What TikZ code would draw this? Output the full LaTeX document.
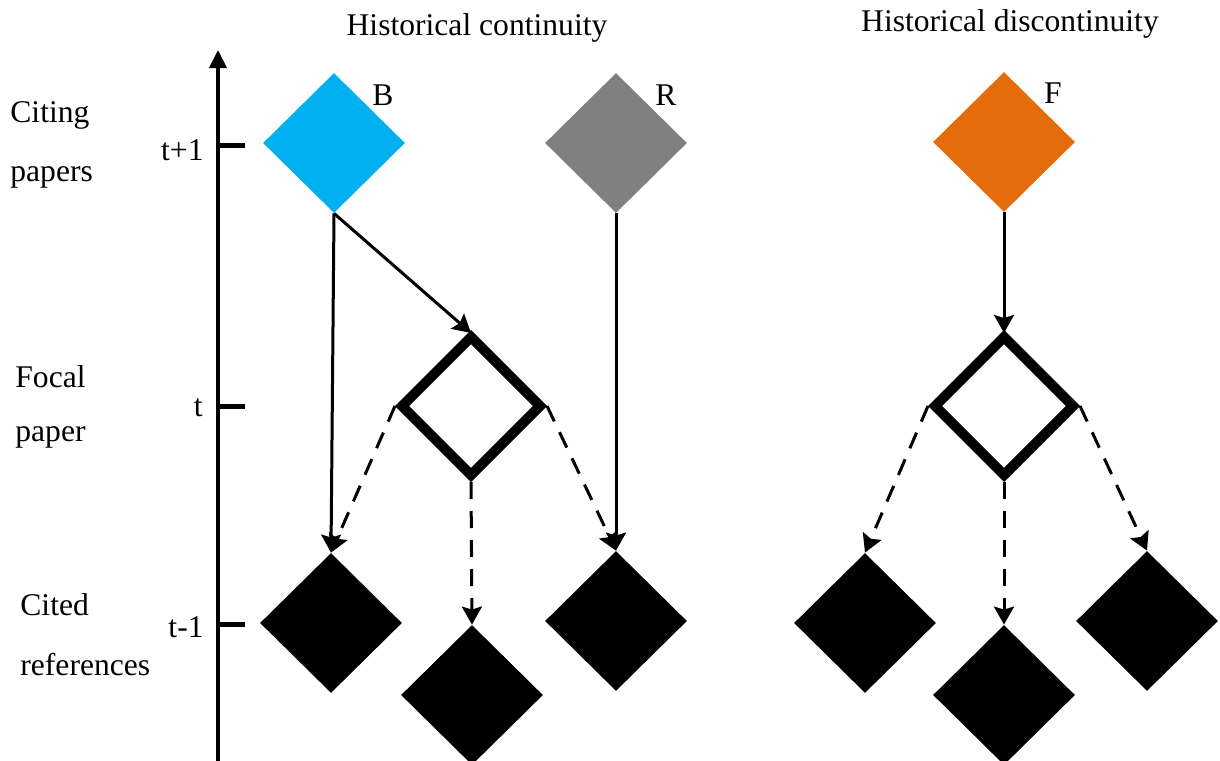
\documentclass[tikz,border=0pt]{standalone}
\usepackage{fontspec}
\setmainfont{Liberation Serif}
\usetikzlibrary{shapes.geometric,arrows.meta}
\definecolor{bblue}{HTML}{00B0F0}
\definecolor{rgray}{HTML}{808080}
\definecolor{forange}{HTML}{E46C0A}
\begin{document}
\begin{tikzpicture}[x=0.5pt,y=-0.5pt,
  font=\fontsize{15.8}{19}\selectfont,
  txt/.style={inner sep=0pt},
  dia/.style={diamond, inner sep=0pt, minimum width=71pt, minimum height=70pt},
  focal/.style={diamond, inner sep=0pt, minimum width=71pt, minimum height=71pt, draw=black, line width=5pt, fill=white},
  link/.style={line width=1.5pt, -{Stealth[length=9pt,width=10pt,inset=1.5pt]}},
  dlink/.style={link, dash pattern=on 8.5pt off 6pt},
  tick/.style={line width=2.5pt}
]
\useasboundingbox (0,0) rectangle (1220,760);
% axis
\coordinate (ab) at (218,762);
\coordinate (at) at (218,50);
\draw[line width=2pt,-{Triangle[length=9pt,width=8.5pt]}] (ab) -- (at);
\coordinate (k1) at (218,145); \coordinate (k1e) at (245,145);
\coordinate (k2) at (218,406); \coordinate (k2e) at (245,406);
\coordinate (k3) at (218,624); \coordinate (k3e) at (245,624);
\draw[tick] (k1) -- (k1e);
\draw[tick] (k2) -- (k2e);
\draw[tick] (k3) -- (k3e);
% diamonds
\node[dia, fill=bblue] (B) at (334,143) {};
\node[dia, fill=rgray] (R) at (616,143) {};
\node[dia, fill=forange] (F) at (1004,142) {};
\node[dia, fill=black] (c1) at (331,623) {};
\node[dia, fill=black] (c2) at (472,695) {};
\node[dia, fill=black] (c3) at (616,621) {};
\node[dia, fill=black] (c4) at (865,623) {};
\node[dia, fill=black] (c5) at (1004,695) {};
\node[dia, fill=black] (c6) at (1147,621) {};
% edges
\draw[link] (B.south) -- (471,333);
\draw[link] (F.south) -- (1004,333);
\node[focal] (P1) at (471,406) {};
\node[focal] (P2) at (1004,406) {};
\draw[link] (B.south) -- (c1.north);
\draw[link] (R.south) -- (c3.north);
\draw[dlink] (P1.west) -- (c1.north);
\draw[dlink] (P1.south) -- (c2.north);
\draw[dlink] (P1.east) -- (c3.north);
\draw[dlink] (P2.west) -- (c4.north);
\draw[dlink] (P2.south) -- (c5.north);
\draw[dlink] (P2.east) -- (c6.north);
% labels
\node[txt] (tB) at (383,95) {B};
\node[txt] (tR) at (666,95) {R};
\node[txt] (tF) at (1053,93) {F};
\node[txt] (h1) at (477,28) {Historical continuity};
\node[txt] (h2) at (1010,24) {Historical discontinuity};
\node[txt, anchor=east] (l1) at (204,150) {t+1};
\node[txt, anchor=east] (l2) at (203,408) {t};
\node[txt, anchor=east] (l3) at (204,627) {t-1};
\node[txt, anchor=west] (a1) at (10,115) {Citing};
\node[txt, anchor=west] (a2) at (10,177) {papers};
\node[txt, anchor=west] (a3) at (15,377) {Focal};
\node[txt, anchor=west] (a4) at (15,437) {paper};
\node[txt, anchor=west] (a5) at (20,605) {Cited};
\node[txt, anchor=west] (a6) at (20,665) {references};
\end{tikzpicture}
\end{document}
